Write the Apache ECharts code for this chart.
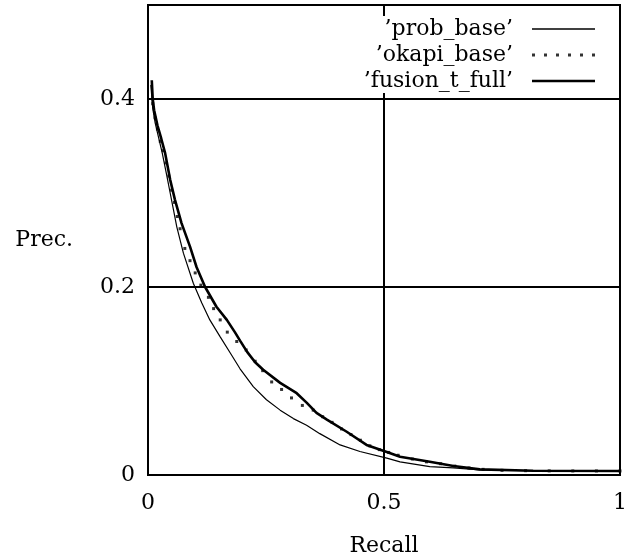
<!DOCTYPE html>
<html>
<head>
<meta charset="utf-8">
<script src="https://cdn.jsdelivr.net/npm/echarts@6/dist/echarts.min.js"></script>
<style>
  html, body { margin: 0; padding: 0; background: #fff; }
  #chart { width: 638px; height: 555px; }
</style>
</head>
<body>
<div id="chart"></div>
<script>
// precision / recall curves
const seriesNames = ['\u2019prob_base\u2019', '\u2019okapi_base\u2019', '\u2019fusion_t_full\u2019']

const probRecall = [0.006, 0.010, 0.015, 0.022, 0.030, 0.040, 0.047, 0.054, 0.061, 0.075, 0.096, 0.114, 0.131, 0.153, 0.174, 0.195, 0.223, 0.251, 0.280, 0.308, 0.336, 0.364, 0.407, 0.449, 0.506, 0.534, 0.597, 0.647, 0.703, 0.816, 1.0]
const probPrec = [0.415, 0.390, 0.375, 0.360, 0.343, 0.318, 0.300, 0.282, 0.264, 0.236, 0.204, 0.183, 0.165, 0.147, 0.130, 0.113, 0.094, 0.080, 0.069, 0.060, 0.053, 0.044, 0.032, 0.025, 0.018, 0.014, 0.009, 0.0075, 0.0053, 0.0045, 0.0043]

const okapiRecall = [0.010, 0.015, 0.020, 0.026, 0.032, 0.038, 0.044, 0.050, 0.056, 0.062, 0.068, 0.078, 0.089, 0.100, 0.112, 0.128, 0.139, 0.153, 0.168, 0.188, 0.208, 0.227, 0.243, 0.262, 0.283, 0.304, 0.327, 0.350, 0.370, 0.390, 0.410, 0.430, 0.450, 0.470, 0.490, 0.510, 0.530, 0.560, 0.590, 0.620, 0.650, 0.680, 0.710, 0.750, 0.800, 0.850, 0.900, 0.950, 1.0]
const okapiPrec = [0.395, 0.380, 0.368, 0.355, 0.345, 0.332, 0.318, 0.303, 0.290, 0.275, 0.262, 0.241, 0.228, 0.215, 0.202, 0.189, 0.177, 0.165, 0.152, 0.142, 0.133, 0.121, 0.111, 0.099, 0.091, 0.082, 0.074, 0.069, 0.062, 0.056, 0.049, 0.043, 0.037, 0.031, 0.027, 0.024, 0.021, 0.017, 0.014, 0.012, 0.0095, 0.0075, 0.006, 0.005, 0.0046, 0.0044, 0.0043, 0.0043, 0.0043]

const fusionRecall = [0.008, 0.010, 0.013, 0.020, 0.028, 0.036, 0.047, 0.057, 0.071, 0.089, 0.103, 0.121, 0.145, 0.167, 0.184, 0.195, 0.210, 0.227, 0.244, 0.280, 0.315, 0.336, 0.357, 0.379, 0.421, 0.463, 0.509, 0.534, 0.597, 0.647, 0.703, 0.816, 1.0]
const fusionPrec = [0.420, 0.400, 0.388, 0.372, 0.358, 0.343, 0.314, 0.293, 0.268, 0.243, 0.221, 0.200, 0.179, 0.165, 0.152, 0.143, 0.131, 0.120, 0.112, 0.098, 0.087, 0.077, 0.066, 0.059, 0.046, 0.032, 0.024, 0.0195, 0.014, 0.0096, 0.006, 0.0046, 0.0043]

const xTicks = [0, 0.5, 1]
const yTicks = [0, 0.2, 0.4]

const zip = (xs, ys) => xs.map((x, i) => [x, ys[i]])

const font = 'DejaVu Serif'
// legend icons, padded out to the 63x14 item box so they keep their shape
const box = 'path://M0,0L0,0M63,14L63,14'
const thinIcon = box + 'M0,6.3h63v1.4h-63z'
const thickIcon = box + 'M0,5.7h63v2.6h-63z'
const dotsIcon = box + [0, 12, 24, 36, 48, 60].map((x) => `M${x},5.5h3v3h-3z`).join('')

const chart = echarts.init(document.getElementById('chart'))

chart.setOption({
  animation: false,
  backgroundColor: '#fff',
  textStyle: { fontFamily: font, color: '#000' },
  grid: {
    left: 148,
    right: 18,
    top: 5,
    bottom: 80,
    outerBoundsMode: 'none',
    containLabel: false,
    show: true,
    borderColor: '#000',
    borderWidth: 2,
    backgroundColor: 'transparent'
  },
  legend: {
    data: [
      { name: seriesNames[0], icon: thinIcon },
      { name: seriesNames[1], icon: dotsIcon },
      { name: seriesNames[2], icon: thickIcon }
    ],
    orient: 'vertical',
    align: 'right',
    right: 23,
    top: 16,
    padding: [2, 20, 1, 10],
    itemGap: 4,
    itemWidth: 63,
    itemHeight: 14,
    backgroundColor: '#fff',
    selectedMode: false,
    formatter: (name) => name + '  ',
    textStyle: { fontFamily: font, fontSize: 22, lineHeight: 22, color: '#000' }
  },
  xAxis: {
    type: 'value',
    min: 0,
    max: 1,
    interval: 0.5,
    name: 'Recall',
    nameLocation: 'middle',
    nameGap: 60,
    nameTextStyle: { fontFamily: font, fontSize: 22, color: '#000' },
    axisLine: { show: true, lineStyle: { color: '#000', width: 2 } },
    axisTick: { show: false },
    axisLabel: {
      margin: 17,
      fontFamily: font,
      fontSize: 22,
      color: '#000',
      formatter: (v) => (xTicks.includes(v) ? String(v) : '')
    },
    splitLine: { show: true, lineStyle: { color: '#000', width: 2 } }
  },
  yAxis: {
    type: 'value',
    min: 0,
    max: 0.5,
    interval: 0.2,
    name: 'Prec.',
    nameLocation: 'middle',
    nameRotate: 0,
    nameGap: 75,
    nameTextStyle: { fontFamily: font, fontSize: 22, color: '#000', padding: [8, 0, 0, 0] },
    axisLine: { show: true, lineStyle: { color: '#000', width: 2 } },
    axisTick: { show: false },
    axisLabel: {
      margin: 13,
      fontFamily: font,
      fontSize: 22,
      color: '#000',
      showMaxLabel: false,
      formatter: (v) => (yTicks.includes(+v.toFixed(2)) ? String(+v.toFixed(2)) : '')
    },
    splitLine: { show: true, lineStyle: { color: '#000', width: 2 } }
  },
  series: [
    {
      name: seriesNames[0],
      type: 'line',
      data: zip(probRecall, probPrec),
      symbol: 'none',
      lineStyle: { color: '#000', width: 1.2 },
      itemStyle: { color: '#000' },
      z: 3
    },
    {
      name: seriesNames[1],
      type: 'scatter',
      data: zip(okapiRecall, okapiPrec),
      symbol: 'rect',
      symbolSize: 3,
      itemStyle: { color: '#000' },
      z: 3
    },
    {
      name: seriesNames[2],
      type: 'line',
      data: zip(fusionRecall, fusionPrec),
      symbol: 'none',
      lineStyle: { color: '#000', width: 2.6 },
      itemStyle: { color: '#000' },
      z: 4
    }
  ]
})
</script>
</body>
</html>
